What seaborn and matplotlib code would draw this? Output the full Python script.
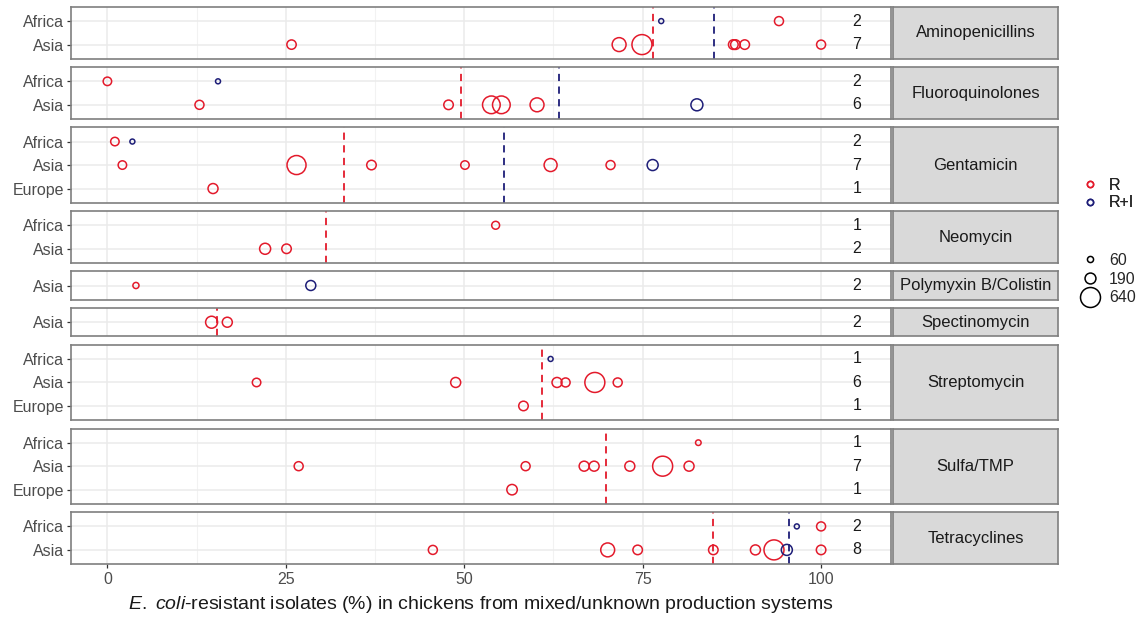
import pandas as pd
import matplotlib
matplotlib.use('Agg')
import matplotlib.pyplot as plt
from matplotlib.lines import Line2D
import seaborn as sns

RED = '#E31A2B'
NAVY = '#1E1E78'
BORDER = '#7F7F7F'

DRUGS = ['Aminopenicillins', 'Fluoroquinolones', 'Gentamicin', 'Neomycin',
         'Polymyxin B/Colistin', 'Spectinomycin', 'Streptomycin', 'Sulfa/TMP',
         'Tetracyclines']
DRUG_REGIONS = [['Africa', 'Asia'], ['Africa', 'Asia'], ['Africa', 'Asia', 'Europe'],
                ['Africa', 'Asia'], ['Asia'], ['Asia'], ['Africa', 'Asia', 'Europe'],
                ['Africa', 'Asia', 'Europe'], ['Africa', 'Asia']]
DRUG_COUNTS = [[2, 7], [2, 6], [2, 7, 1], [1, 2], [2], [2], [1, 6, 1], [1, 7, 1], [2, 8]]
MEDIAN_R = [76.4, 49.5, 33.1, 30.6, None, 15.4, 60.9, 69.9, 84.9]
MEDIAN_RI = [85.0, 63.3, 55.6, None, None, None, None, None, 95.5]

# (region, measure, % resistant isolates, number of isolates)
AMINOPENICILLINS = [('Africa', 'R', 94.1, 130), ('Africa', 'R+I', 77.6, 40),
                    ('Asia', 'R', 25.8, 140), ('Asia', 'R', 71.7, 310), ('Asia', 'R', 74.9, 640),
                    ('Asia', 'R', 87.7, 150), ('Asia', 'R', 88.0, 150), ('Asia', 'R', 89.3, 145),
                    ('Asia', 'R', 100.0, 130)]
FLUOROQUINOLONES = [('Africa', 'R', 0.0, 115), ('Africa', 'R+I', 15.5, 40),
                    ('Asia', 'R', 12.9, 130), ('Asia', 'R', 47.8, 145), ('Asia', 'R', 53.8, 500),
                    ('Asia', 'R', 55.2, 500), ('Asia', 'R', 60.2, 310), ('Asia', 'R+I', 82.6, 230)]
GENTAMICIN = [('Africa', 'R', 1.05, 115), ('Africa', 'R+I', 3.5, 40),
              ('Asia', 'R', 2.1, 115), ('Asia', 'R', 26.5, 580), ('Asia', 'R', 37.0, 145),
              ('Asia', 'R', 50.1, 115), ('Asia', 'R', 62.1, 270), ('Asia', 'R', 70.5, 130),
              ('Asia', 'R+I', 76.4, 195), ('Europe', 'R', 14.8, 160)]
NEOMYCIN = [('Africa', 'R', 54.4, 100), ('Asia', 'R', 22.1, 195), ('Asia', 'R', 25.1, 145)]
POLYMYXIN = [('Asia', 'R', 4.0, 60), ('Asia', 'R+I', 28.5, 160)]
SPECTINOMYCIN = [('Asia', 'R', 14.6, 230), ('Asia', 'R', 16.8, 160)]
STREPTOMYCIN = [('Africa', 'R+I', 62.1, 40),
                ('Asia', 'R', 20.9, 115), ('Asia', 'R', 48.8, 160), ('Asia', 'R', 63.0, 160),
                ('Asia', 'R', 64.2, 130), ('Asia', 'R', 68.3, 640), ('Asia', 'R', 71.5, 130),
                ('Europe', 'R', 58.3, 145)]
SULFA_TMP = [('Africa', 'R', 82.8, 50),
             ('Asia', 'R', 26.8, 130), ('Asia', 'R', 58.6, 130), ('Asia', 'R', 66.8, 160),
             ('Asia', 'R', 68.2, 160), ('Asia', 'R', 73.2, 160), ('Asia', 'R', 77.8, 640),
             ('Asia', 'R', 81.5, 160), ('Europe', 'R', 56.7, 175)]
TETRACYCLINES = [('Africa', 'R+I', 96.6, 40), ('Africa', 'R', 100.0, 130),
                 ('Asia', 'R', 45.6, 130), ('Asia', 'R', 70.1, 310), ('Asia', 'R', 74.3, 145),
                 ('Asia', 'R', 84.9, 145), ('Asia', 'R', 90.8, 160), ('Asia', 'R', 93.4, 640),
                 ('Asia', 'R+I', 95.2, 195), ('Asia', 'R', 100.0, 145)]

POINTS = [AMINOPENICILLINS, FLUOROQUINOLONES, GENTAMICIN, NEOMYCIN, POLYMYXIN,
          SPECTINOMYCIN, STREPTOMYCIN, SULFA_TMP, TETRACYCLINES]

SIZE_LEGEND = [60, 190, 640]
SIZE_RANGE = (0, 207)
SIZE_NORM = (0, 640)

sns.set_theme(style='white')
plt.rcParams['font.family'] = ['Liberation Sans', 'DejaVu Sans']
plt.rcParams['mathtext.fontset'] = 'custom'
plt.rcParams['mathtext.it'] = 'Liberation Sans:italic'
plt.rcParams['mathtext.rm'] = 'Liberation Sans'

fig = plt.figure(figsize=(11.43, 6.24), dpi=100)
gs = fig.add_gridspec(9, 2, height_ratios=[len(r) + 0.2 for r in DRUG_REGIONS],
                      width_ratios=[820, 165], left=71 / 1143, right=1058 / 1143,
                      top=1 - 7 / 624, bottom=1 - 564 / 624, hspace=0.157, wspace=0.004)

for i, drug in enumerate(DRUGS):
    ax = fig.add_subplot(gs[i, 0])
    sax = fig.add_subplot(gs[i, 1])
    regions = DRUG_REGIONS[i]
    df = pd.DataFrame(POINTS[i], columns=['region', 'measure', 'pct', 'n'])
    df['row'] = df['region'].map({r: k for k, r in enumerate(regions)})

    # medians behind the points
    if MEDIAN_R[i] is not None:
        ax.axvline(MEDIAN_R[i], color=RED, ls=(0, (4, 3)), lw=1.3, zorder=1)
    if MEDIAN_RI[i] is not None:
        ax.axvline(MEDIAN_RI[i], color=NAVY, ls=(0, (4, 3)), lw=1.3, zorder=1)

    sns.scatterplot(data=df, x='pct', y='row', hue='measure',
                    palette={'R': RED, 'R+I': NAVY}, size='n', sizes=SIZE_RANGE,
                    size_norm=SIZE_NORM, legend=False, ax=ax, zorder=3)
    # hollow circles like the original
    coll = ax.collections[-1]
    coll.set_edgecolors(coll.get_facecolors())
    coll.set_facecolors('none')
    coll.set_linewidths(1.1)

    for k, c in enumerate(DRUG_COUNTS[i]):
        ax.text(105, k, str(c), ha='center', va='center', fontsize=11.5, color='#1A1A1A')

    ax.set_xlim(-5.1, 109.8)
    ax.set_ylim(len(regions) - 1 + 0.6, -0.6)
    ax.set_xticks([0, 25, 50, 75, 100])
    ax.set_xticks([12.5, 37.5, 62.5, 87.5], minor=True)
    ax.set_yticks(range(len(regions)))
    ax.set_yticklabels(regions)
    ax.grid(True, which='major', color='#EBEBEB', lw=1.1, zorder=0)
    ax.grid(True, which='minor', axis='x', color='#F2F2F2', lw=0.8, zorder=0)
    ax.set_axisbelow(True)
    ax.set_xlabel('')
    ax.set_ylabel('')
    ax.tick_params(axis='y', left=True, length=3, width=0.9, color='#333333',
                   labelsize=11.5, labelcolor='#4D4D4D', pad=2)
    if i < len(DRUGS) - 1:
        ax.tick_params(axis='x', bottom=False, labelbottom=False)
    else:
        ax.tick_params(axis='x', bottom=True, length=3, width=0.9, color='#333333',
                       labelsize=11.5, labelcolor='#4D4D4D', pad=3)
        ax.set_xlabel(r'$\it{E.\ coli}$-resistant isolates (%) in chickens from mixed/unknown production systems',
                      fontsize=14, color='#1A1A1A', labelpad=5)
    for sp in ax.spines.values():
        sp.set_color(BORDER)
        sp.set_linewidth(1.2)

    sax.set_facecolor('#D9D9D9')
    sax.set_xticks([])
    sax.set_yticks([])
    for sp in sax.spines.values():
        sp.set_color(BORDER)
        sp.set_linewidth(1.2)
    sax.text(0.5, 0.5, drug, ha='center', va='center', fontsize=12, color='#1A1A1A',
             transform=sax.transAxes)

measure_handles = [Line2D([], [], ls='', marker='o', mfc='none', mec=RED, ms=4.5, mew=1.1),
                   Line2D([], [], ls='', marker='o', mfc='none', mec=NAVY, ms=4.5, mew=1.1)]
leg1 = fig.legend(measure_handles, ['R', 'R+I'], loc='center left',
                  bbox_to_anchor=(1080 / 1143, 1 - 194 / 624), frameon=False,
                  borderaxespad=0, borderpad=0, fontsize=11.5, handletextpad=0.5,
                  labelspacing=0.15, handlelength=1.3)
fig.add_artist(leg1)

size_handles = [Line2D([], [], ls='', marker='o', mfc='none', mec='black', mew=1.1,
                       ms=(SIZE_RANGE[1] * v / SIZE_NORM[1]) ** 0.5) for v in SIZE_LEGEND]
fig.legend(size_handles, [str(v) for v in SIZE_LEGEND], loc='center left',
           bbox_to_anchor=(1080 / 1143, 1 - 279 / 624), frameon=False,
           borderaxespad=0, borderpad=0, fontsize=11.5, handletextpad=0.5,
           labelspacing=0.25, handlelength=1.3)

fig.savefig('out.png', dpi=100)
